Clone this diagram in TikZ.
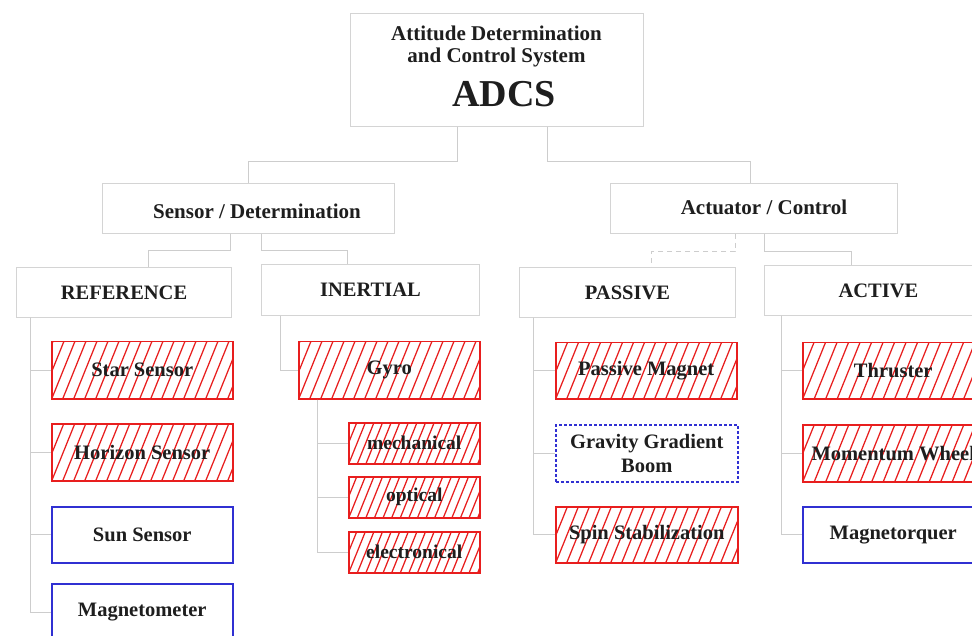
\documentclass[tikz,border=0pt]{standalone}
\usepackage{fontspec}
\setmainfont{Liberation Serif}
\usetikzlibrary{calc}

\definecolor{boxgray}{RGB}{212,212,212}
\definecolor{linegray}{RGB}{205,205,205}
\definecolor{hred}{RGB}{232,30,30}
\definecolor{bblue}{RGB}{48,48,210}
\definecolor{txt}{RGB}{30,30,30}

\tikzset{
  base/.style={anchor=north west, inner sep=0pt, text=txt,
    font=\fontsize{20.5}{22}\selectfont\bfseries},
  small/.style={font=\fontsize{19.5}{21}\selectfont\bfseries},
  graybox/.style={base, draw=boxgray, line width=1pt},
  hatchbox/.style={base, draw=hred, line width=1.5pt,
    path picture={
      \foreach \k in {-8,...,26}{
        \draw[hred, line width=1.25pt]
          ([xshift={\k*#1}]path picture bounding box.south west) -- ++(68:90pt);
      }}},
  hatchbox/.default=11pt,
  bluebox/.style={base, draw=bblue, line width=1.5pt},
  dotbox/.style={base, draw=bblue, line width=1.5pt, dash pattern=on 3pt off 2pt},
  conn/.style={draw=linegray, line width=1pt},
  dconn/.style={conn, dash pattern=on 5pt off 4pt},
}

\begin{document}
\begin{tikzpicture}[x=1pt, y=-1pt]
\useasboundingbox (0,0) rectangle (972,636);
\clip (0,0) rectangle (972,636);
\fill[white] (0,0) rectangle (972,636);

% top level
\node[graybox, minimum width=293pt, minimum height=113pt] (adcs) at (350,13) {};
\node[base, anchor=center, font=\fontsize{21}{22}\selectfont\bfseries] (adcsl1) at (496.5,33.5) {Attitude Determination};
\node[base, anchor=center, font=\fontsize{21}{22}\selectfont\bfseries] (adcsl2) at (496.5,57.5) {and Control System};
\node[base, anchor=center, font=\fontsize{38}{40}\selectfont\bfseries] (adcsl3) at (504,94) {ADCS};

% second level
\node[graybox, minimum width=292pt, minimum height=50pt] (sensor) at (102,183) {};
\node[base, anchor=center, font=\fontsize{21}{22}\selectfont\bfseries] (sensorl) at (257,211) {Sensor / Determination};
\node[graybox, minimum width=287pt, minimum height=50pt] (actuator) at (610,183) {};
\node[base, anchor=center, font=\fontsize{21}{22}\selectfont\bfseries] (actuatorl) at (764,207) {Actuator / Control};

% third level
\node[graybox, minimum width=215pt, minimum height=50pt] (reference) at (16,267) {REFERENCE};
\node[graybox, minimum width=218pt, minimum height=51pt] (inertial) at (261,264) {INERTIAL};
\node[graybox, minimum width=216pt, minimum height=50pt] (passive) at (519,267) {PASSIVE};
\node[graybox, minimum width=228pt, minimum height=50pt] (active) at (764,265) {ACTIVE};

% reference sensors
\node[hatchbox, minimum width=181pt, minimum height=57pt] (star) at (51,341) {Star Sensor};
\node[hatchbox, minimum width=181pt, minimum height=57pt] (horizon) at (51,423) {Horizon Sensor};
\node[bluebox, minimum width=181pt, minimum height=56pt] (sun) at (51,506) {Sun Sensor};
\node[bluebox, minimum width=181pt, minimum height=57pt] (magneto) at (51,583) {Magnetometer};

% inertial sensors
\node[hatchbox, minimum width=181pt, minimum height=57pt] (gyro) at (298,341) {Gyro};
\node[hatchbox=8.6pt, small, minimum width=131pt, minimum height=41pt] (mech) at (348,422) {mechanical};
\node[hatchbox=8.6pt, small, minimum width=131pt, minimum height=41pt] (optical) at (348,476) {optical};
\node[hatchbox=8.6pt, small, minimum width=131pt, minimum height=41pt] (electro) at (348,531) {electronical};

% passive actuators
\node[hatchbox, minimum width=181pt, minimum height=56pt] (pmagnet) at (555,342) {Passive Magnet};
\node[dotbox, minimum width=182pt, minimum height=57pt, align=center] (ggb) at (555,424) {Gravity Gradient\\[2pt]Boom};
\node[hatchbox, minimum width=182pt, minimum height=56pt] (spin) at (555,506) {Spin Stabilization};

% active actuators
\node[hatchbox=11.5pt, minimum width=181pt, minimum height=56pt] (thruster) at (802,342) {Thruster};
\node[hatchbox=11.5pt, minimum width=181pt, minimum height=57pt] (wheel) at (802,424) {Momentum Wheel};
\node[bluebox, minimum width=181pt, minimum height=56pt] (mtq) at (802,506) {Magnetorquer};

% tree connectors
\draw[conn] ([xshift=107pt]adcs.south west) -- ++(0,35) -| ([xshift=146pt]sensor.north west);
\draw[conn] ([xshift=197pt]adcs.south west) -- ++(0,35) -| ([xshift=140pt]actuator.north west);
\draw[conn] ([xshift=128pt]sensor.south west) -- ++(0,17) -| ([xshift=132pt]reference.north west);
\draw[conn] ([xshift=159pt]sensor.south west) -- ++(0,17) -| ([xshift=86pt]inertial.north west);
\draw[dconn] ([xshift=125pt]actuator.south west) -- ++(0,18) -| ([xshift=132pt]passive.north west);
\draw[conn] ([xshift=154pt]actuator.south west) -- ++(0,18) -| ([xshift=87pt]active.north west);

\foreach \c in {star,horizon,sun,magneto}
  \draw[conn] ([xshift=14pt]reference.south west) |- (\c.west);
\draw[conn] ([xshift=19pt]inertial.south west) |- (gyro.west);
\foreach \c in {mech,optical,electro}
  \draw[conn] ([xshift=19pt]gyro.south west) |- (\c.west);
\foreach \c in {pmagnet,ggb,spin}
  \draw[conn] ([xshift=14pt]passive.south west) |- (\c.west);
\foreach \c in {thruster,wheel,mtq}
  \draw[conn] ([xshift=17pt]active.south west) |- (\c.west);
\end{tikzpicture}
\end{document}
